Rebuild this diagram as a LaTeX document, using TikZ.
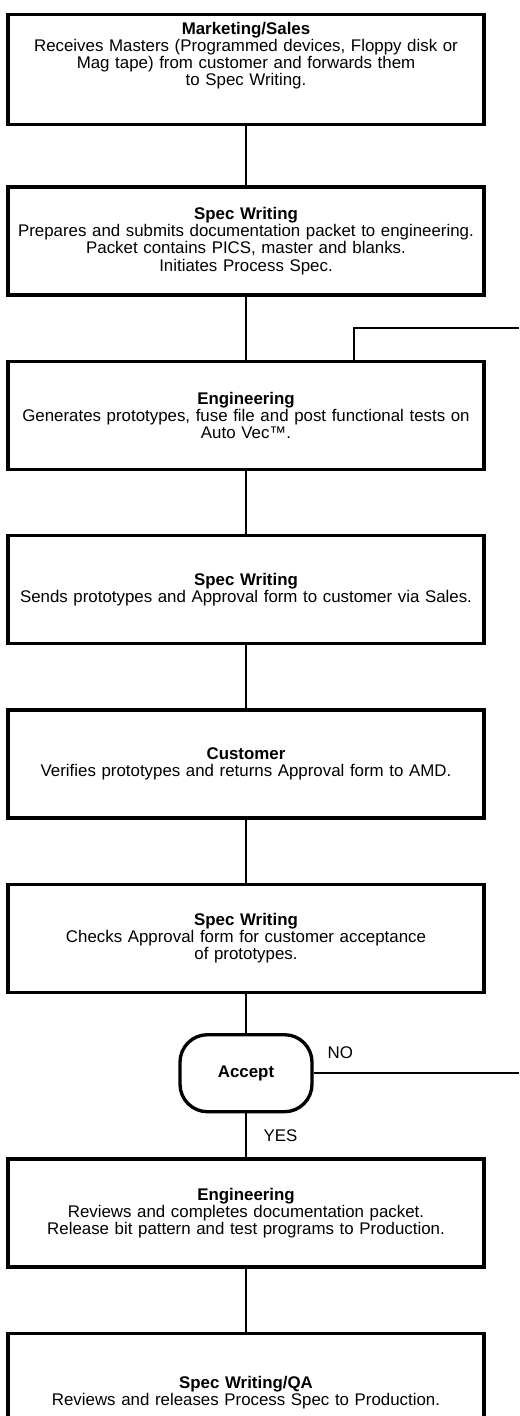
\documentclass[tikz,border=0pt]{standalone}
\usepackage{fontspec}
\setmainfont{Liberation Sans}
\usetikzlibrary{positioning, arrows.meta}

\begin{document}
\begin{tikzpicture}[
      auto,
      % box style
      block/.style={rectangle, draw, line width=1.9pt, text width=9.3cm, align=center, minimum width=9.52cm, minimum height=2.16cm, inner sep=1mm},
      % decision style
      decision/.style={rectangle, draw, line width=1.9pt, rounded corners=0.55cm, minimum width=2.64cm, minimum height=1.54cm, font=\fontsize{9.6}{9.8}\selectfont\bfseries},
      % connector style
      line/.style={draw, line width=1pt},
      font=\fontsize{9.6}{9.8}\selectfont,
      node distance=1.26cm
    ]
    \useasboundingbox (0,0) rectangle (10.38,-28.32);

    % --- main flow ---
    \node [block, anchor=north, text depth=1.66cm, minimum height=2.2cm] (sales) at (4.92,-0.26) {\textbf{Marketing/Sales}\\Receives Masters (Programmed devices, Floppy disk or\\Mag tape) from customer and forwards them\\to Spec Writing.};
    \node [block, below=1.18cm of sales] (specA) {\textbf{Spec Writing}\\Prepares and submits documentation packet to engineering.\\Packet contains PICS, master and blanks.\\Initiates Process Spec.};
    \node [block, below=of specA] (engA) {\textbf{Engineering}\\Generates prototypes, fuse file and post functional tests on\\Auto Vec™.};
    \node [block, below=of engA] (specB) {\textbf{Spec Writing}\\Sends prototypes and Approval form to customer via Sales.};
    \node [block, below=of specB] (customer) {\textbf{Customer}\\Verifies prototypes and returns Approval form to AMD.};
    \node [block, below=of customer] (specC) {\textbf{Spec Writing}\\Checks Approval form for customer acceptance\\of prototypes.};
    \node [decision, below=0.78cm of specC] (accept) {Accept};
    \node [block, below=0.88cm of accept] (engB) {\textbf{Engineering}\\Reviews and completes documentation packet.\\Release bit pattern and test programs to Production.};
    \node [block, below=of engB, minimum height=2.36cm] (specQA) {\textbf{Spec Writing/QA}\\Reviews and releases Process Spec to Production.};

    % --- loop back (leaves the page on the right) ---
    \coordinate (backin) at (10.38,-6.56);
    \coordinate (backout) at (accept.east -| backin);

    % --- connectors ---
    \draw [line] (sales) -- (specA);
    \draw [line] (specA) -- (engA);
    \draw [line] (engA) -- (specB);
    \draw [line] (specB) -- (customer);
    \draw [line] (customer) -- (specC);
    \draw [line] (specC) -- (accept);
    \draw [line] (accept) -- node[pos=0.5, right=0.22cm] {YES} (engB);
    \draw [line] (engB) -- (specQA);
    \draw [line] (accept.east) -- node[pos=0.13, above=0.15cm] {NO} (backout);
    \draw [line] (backin) -| ([xshift=2.16cm]engA.north);

\end{tikzpicture}
\end{document}
